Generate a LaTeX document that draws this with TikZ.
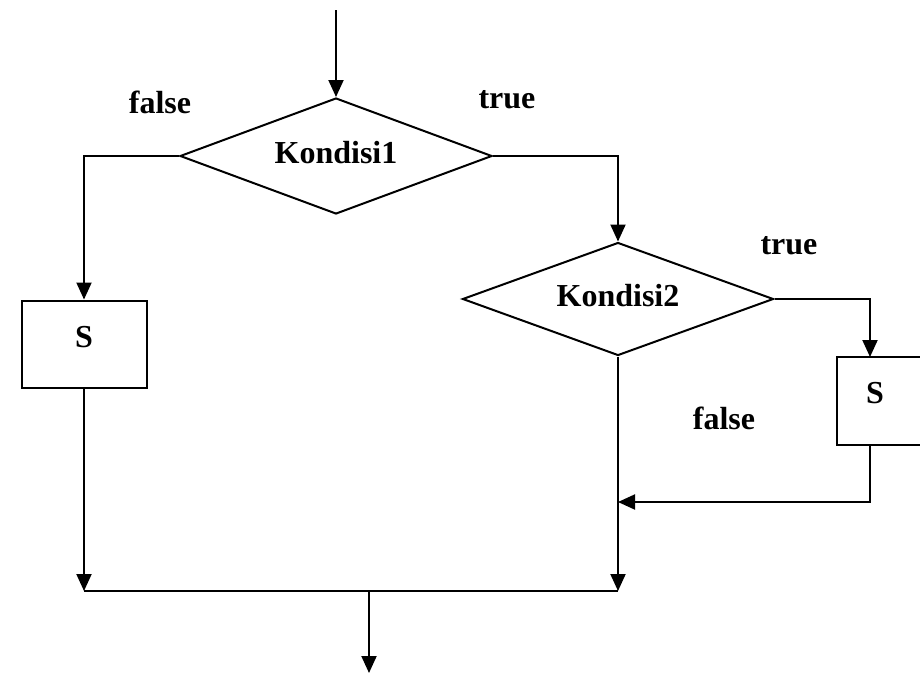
\documentclass[tikz,border=0pt]{standalone}
\usepackage{fontspec}
\setmainfont{Liberation Serif}
\usetikzlibrary{arrows.meta,shapes.geometric}
\begin{document}
\begin{tikzpicture}[x=1pt,y=-1pt,
  line width=2pt,
  >={Triangle[length=17pt,width=15pt]},
  txt/.style={font=\fontsize{32}{36}\selectfont\bfseries},
  lbl/.style={txt, inner sep=0pt},
  decision/.style={diamond, aspect=2.7, draw, inner sep=0pt, txt, text depth=7pt},
  process/.style={rectangle, draw, inner sep=0pt, txt, text depth=14pt,
    minimum width=125, minimum height=87}]
\useasboundingbox (0,0) rectangle (920,675);
\clip (0,0) rectangle (920,675);

% flow entry and exit
\coordinate (start) at (336,10);
\coordinate (join) at (369,591);
\coordinate (finish) at (369,673);
\coordinate (backrow) at (0,502);

% decisions and statements
\node[decision, minimum width=312, minimum height=116] (k1) at (336,156) {Kondisi1};
\node[decision, minimum width=311, minimum height=113] (k2) at (618,299) {Kondisi2};
\node[process] (s1) at (84,344) {S};
\node[process, minimum height=88] (s2) at (899.5,401) {};
\node[lbl] (s2t) at (875,393) {S};
\coordinate (s2in) at (870,357);
\coordinate (s2out) at (870,445);

% branch labels
\node[lbl] (f1) at (160,102) {false};
\node[lbl] (t1) at (507,100) {true};
\node[lbl] (t2) at (789,246) {true};
\node[lbl] (f2) at (724,418) {false};

% connectors
\draw[->] (start) -- (k1.north);
\draw[->] (k1.west) -| (s1.north);
\draw[->] (k1.east) -| (k2.north);
\draw[->] (k2.east) -| (s2in);
\draw[->] (s2out) |- (k2.south |- backrow);
\draw[->] (s1.south) -- (s1.south |- join);
\draw[->] (k2.south) -- (k2.south |- join);
\draw (s1.south |- join) -- (k2.south |- join);
\draw[->] (join) -- (finish);
\end{tikzpicture}
\end{document}
